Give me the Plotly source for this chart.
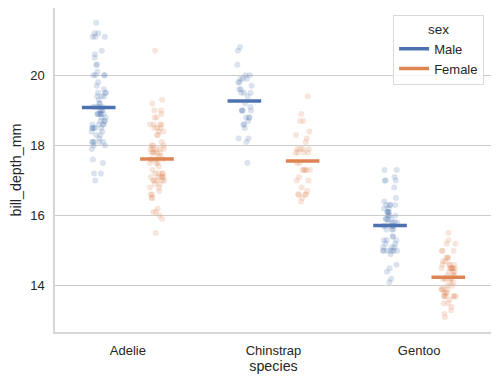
import numpy as np
import plotly.graph_objects as go

species = ["Adelie", "Chinstrap", "Gentoo"]
sexes = ["Male", "Female"]

adelie_male = [18.7, 20.6, 19.6, 21.2, 21.1, 20.7, 21.5, 18.7, 18.1, 17.2, 18.6, 18.9, 18.1, 18.9,
               21.1, 20.0, 19.3, 19.1, 18.4, 19.7, 18.8, 19.0, 21.2, 18.9, 19.5, 18.6, 18.8, 19.1,
               21.1, 18.2, 18.0, 19.1, 19.4, 18.4, 18.9, 18.5, 19.4, 19.1, 17.6, 19.4, 20.3, 19.5,
               19.2, 18.1, 18.1, 18.9, 18.5, 18.5, 20.0, 20.0, 18.9, 20.0, 19.0, 20.3, 19.5, 18.3,
               20.5, 18.6, 19.8, 18.5, 19.0, 18.3, 18.0, 19.2, 18.5, 17.5, 20.1, 17.9, 17.2, 17.0,
               18.7, 18.6, 18.1]
adelie_female = [17.4, 18.0, 19.3, 17.8, 17.6, 17.8, 19.0, 18.4, 18.3, 19.2, 18.9, 17.9, 18.6, 16.7,
                 17.8, 17.0, 18.5, 18.0, 18.5, 16.9, 17.9, 17.7, 17.9, 18.1, 17.5, 16.6, 16.9, 17.0,
                 17.1, 16.2, 16.6, 19.0, 17.2, 17.5, 16.8, 16.1, 17.2, 18.8, 17.8, 18.6, 18.8, 18.0,
                 17.1, 17.3, 18.6, 16.1, 17.9, 16.0, 18.6, 17.2, 17.0, 16.5, 17.7, 20.7, 17.0, 17.2,
                 17.0, 15.9, 17.6, 17.1, 17.9, 18.5, 17.6, 17.5, 16.5, 17.1, 15.5, 16.8, 18.4, 17.8,
                 17.1, 18.3, 17.6]
chinstrap_male = [19.5, 19.2, 19.8, 18.2, 19.9, 20.3, 18.1, 19.6, 20.0, 18.6, 18.2, 19.4, 19.0, 19.0,
                  20.0, 20.8, 18.8, 18.6, 20.7, 19.9, 19.5, 19.1, 18.5, 19.6, 18.7, 19.0, 19.7, 18.8,
                  19.9, 18.8, 19.5, 19.8, 17.5, 19.0]
chinstrap_female = [17.9, 18.7, 17.8, 18.2, 18.9, 17.8, 17.3, 17.1, 17.8, 17.3, 17.5, 16.6, 17.9, 18.4,
                    17.8, 16.6, 16.7, 16.8, 18.3, 16.6, 17.5, 17.0, 17.9, 17.9, 17.3, 16.4, 17.3, 17.3,
                    16.6, 19.4, 16.5, 17.0, 18.1, 18.7]
gentoo_male = [16.3, 15.2, 14.5, 15.3, 15.4, 16.1, 14.6, 15.7, 15.2, 15.1, 15.8, 15.1, 15.0, 15.3,
               17.0, 16.3, 17.3, 15.7, 16.0, 15.0, 15.9, 15.9, 15.8, 14.1, 15.0, 15.4, 15.0, 15.3,
               14.9, 15.7, 16.8, 16.2, 15.0, 15.6, 15.6, 16.0, 16.3, 16.4, 15.6, 15.9, 17.3, 14.2,
               17.0, 17.1, 16.1, 15.7, 15.8, 14.4, 16.5, 15.0, 17.0, 15.0, 16.1, 15.8, 15.1, 15.9,
               16.3, 16.0, 16.2, 15.7, 16.1]
gentoo_female = [13.2, 14.1, 13.5, 14.6, 13.4, 13.7, 13.7, 14.6, 13.5, 14.5, 14.3, 14.5, 14.5, 13.1,
                 14.3, 15.3, 14.2, 14.5, 14.8, 13.7, 13.6, 13.7, 13.7, 13.9, 13.9, 13.3, 14.2, 14.4,
                 14.4, 13.9, 14.5, 13.8, 13.9, 14.2, 14.2, 15.0, 14.8, 15.0, 14.2, 13.8, 14.5, 14.6,
                 13.8, 14.4, 14.0, 15.0, 14.5, 14.7, 14.6, 15.5, 14.7, 14.0, 15.2, 15.2, 14.1, 13.7,
                 14.3, 14.8]

data = {
    "Male": [adelie_male, chinstrap_male, gentoo_male],
    "Female": [adelie_female, chinstrap_female, gentoo_female],
}
colors = {"Male": "#4C72B0", "Female": "#DD8452"}
rgba = {"Male": "rgba(76,114,176,0.2)", "Female": "rgba(221,132,82,0.2)"}
dodge = {"Male": -0.2, "Female": 0.2}
JIT = 0.05

fig = go.Figure()
for sex in sexes:
    xs, ys = [], []
    for ci, vals in enumerate(data[sex]):
        for i, v in enumerate(vals):
            frac = ((i + 1) * 0.6180339887 + ci * 0.31) % 1.0
            xs.append(ci + dodge[sex] + (frac - 0.5) * 2 * JIT)
            ys.append(v)
    fig.add_trace(go.Scatter(x=xs, y=ys, mode="markers", showlegend=False,
                             marker=dict(size=6, color=rgba[sex], line=dict(width=0)),
                             hoverinfo="y"))

for sex in sexes:
    mx = [ci + dodge[sex] for ci in range(len(species))]
    my = [float(np.mean(v)) for v in data[sex]]
    fig.add_trace(go.Scatter(x=mx, y=my, mode="markers", showlegend=False,
                             marker=dict(symbol="line-ew", size=24,
                                         line=dict(width=3.5, color=colors[sex]),
                                         color=colors[sex])))

for sex in sexes:
    fig.add_trace(go.Scatter(x=[None], y=[None], mode="lines", name=sex,
                             line=dict(color=colors[sex], width=3.5)))

font_family = "Liberation Sans, Arial, sans-serif"
fig.update_layout(
    width=491, height=377,
    margin=dict(l=47, r=7, t=0, b=53, autoexpand=False),
    paper_bgcolor="white", plot_bgcolor="white",
    font=dict(family=font_family, color="#262626", size=13),
    legend=dict(
        title=dict(text="sex", side="top center", font=dict(size=13.5)),
        x=0.982, y=0.978, xanchor="right", yanchor="top",
        bgcolor="rgba(255,255,255,0.8)", bordercolor="#d9d9d9", borderwidth=1,
        font=dict(size=13), itemwidth=30,
    ),
)
fig.update_xaxes(
    range=[-0.5, 2.5], tickvals=[0, 1, 2], ticktext=species,
    showgrid=False, zeroline=False, automargin=False,
    showline=True, mirror=True, linecolor="#d6d6d6", linewidth=1.5,
    ticks="", ticklabelstandoff=6, tickfont=dict(size=13),
    title=dict(text="species", font=dict(size=14.3), standoff=4),
)
fig.update_yaxes(
    range=[12.68, 21.92], tickvals=[14, 16, 18, 20],
    showgrid=True, gridcolor="#cccccc", gridwidth=1, zeroline=False, automargin=False,
    showline=True, mirror=True, linecolor="#d6d6d6", linewidth=1.5,
    ticks="", ticklabelstandoff=6, tickfont=dict(size=13),
    title=dict(text="bill_depth_mm", font=dict(size=14.3), standoff=6),
)

fig.write_html("out.html")
